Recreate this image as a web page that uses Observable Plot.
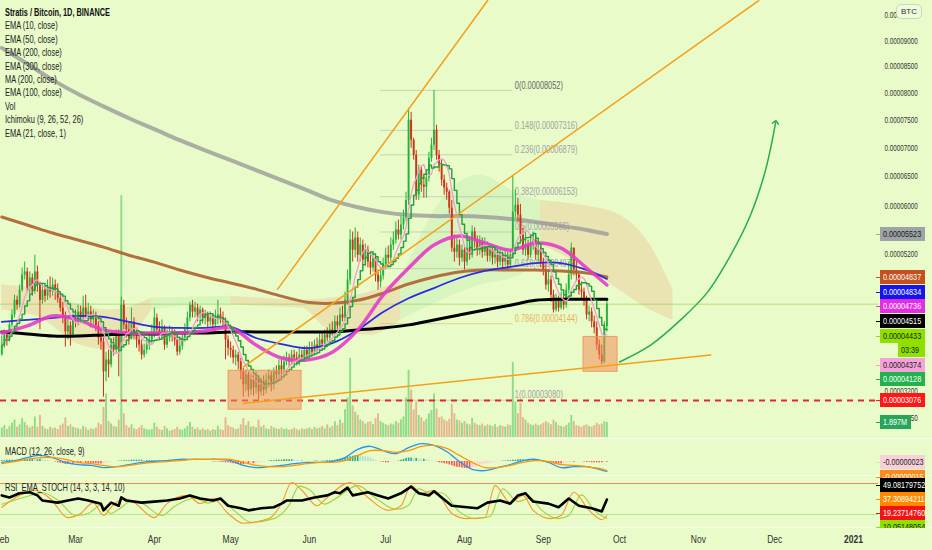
<!DOCTYPE html>
<html>
<head>
<meta charset="utf-8">
<script src="https://cdn.jsdelivr.net/npm/d3@7"></script>
<script src="https://cdn.jsdelivr.net/npm/@observablehq/plot@0.6"></script>
<style>
html,body{margin:0;padding:0;background:#e8fbc8;}
#wrap{position:relative;width:932px;height:550px;overflow:hidden;background:#e8fbc8;font-family:"Liberation Sans",Arial,sans-serif;color:#222;}
.layer{position:absolute;left:0;}
.sep{position:absolute;left:0;width:932px;height:1px;background:#f5fdec;}
.tag{position:absolute;height:14px;line-height:14px;font-size:9.5px;padding-left:3px;box-sizing:border-box;white-space:nowrap;overflow:hidden;}
.tk{position:absolute;height:1px;width:4px;}
.cx{display:inline-block;transform-origin:0 50%;white-space:nowrap;}
#legend{position:absolute;left:5px;top:6px;font-size:10.5px;line-height:13.4px;color:#222;}
.plabel{position:absolute;left:5px;font-size:10.5px;line-height:13px;color:#222;}
#btc{position:absolute;left:896px;top:4px;font-size:8px;line-height:13px;padding:0 4px;border:1px solid #c9d9b9;border-radius:5px;background:#eefbdc;color:#333;}
</style>
</head>
<body>
<div id="wrap">
  <div class="layer" id="volLayer" style="top:0"></div>
  <div class="layer" id="mainLayer" style="top:0"></div>
  <div class="sep" style="top:438px"></div>
  <div class="layer" id="macdLayer" style="top:438px"></div>
  <div class="sep" style="top:475px"></div>
  <div class="layer" id="rsiLayer" style="top:475px"></div>
  <div class="sep" style="top:527px"></div>
  <div id="legend"></div>
  <div class="plabel" style="top:445px"><span class="cx" style="transform:scaleX(0.71)">MACD (12, 26, close, 9)</span></div>
  <div class="plabel" style="top:481px"><span class="cx" style="transform:scaleX(0.71)">RSI_EMA_STOCH (14, 3, 3, 14, 10)</span></div>
  <div id="tags"></div>
  <div id="btc">BTC</div>
</div>
<script>
// ---------- DATA (prices in satoshi = 1e-8 BTC, days counted from 2020-02-01) ----------
const startDate = "2020-02-01";
const firstOpen = 3693;
const closes = [
3834,3980,3907,4126,4272,4491,4418,4647,4880,4927,
4678,4833,4647,4927,4724,4491,4647,4554,4678,4616,
4724,4647,4522,4374,4228,4024,4111,3980,4228,4170,
4316,4228,4374,4272,4316,4199,4228,4111,3936,3878,
3461,3625,3556,3834,3761,3980,3790,4418,4126,4053,
3936,4170,3995,3907,3834,3693,3761,3834,3907,3965,
4228,4053,3980,4082,3834,3936,4024,3965,3907,3734,
3819,3936,4053,4228,4418,4316,4374,4257,4345,4228,
4287,4170,4228,4126,4199,4272,4228,4170,3907,3790,
3761,3652,3693,3597,3461,3284,3420,3215,3352,3243,
3379,3188,3325,3215,3352,3406,3284,3461,3420,3543,
3488,3597,3652,3597,3693,3652,3597,3693,3652,3761,
3693,3790,3734,3834,3790,3907,3849,3980,3936,4053,
4024,4170,4111,4272,4228,4491,4802,5435,5271,5468,
5191,5353,5113,5271,5082,4989,5145,4880,4771,4865,
5036,5191,5145,5353,5435,5599,5517,5681,5796,6091,
7501,7139,6870,6179,6611,6352,6317,6473,6819,7049,
7320,6870,6698,6438,6300,6230,5960,5304,5238,5353,
5145,5271,5082,5304,5191,5566,5435,5271,5402,5238,
5353,5176,5271,5145,5191,5082,5191,5082,5145,5036,
5191,5894,6009,5845,5517,5271,5353,5191,5353,5435,
5191,5271,5082,4958,4724,4802,4569,4345,4491,4374,
4491,4418,4647,4880,5304,4958,4880,4647,4616,4491,
4272,4316,4170,4082,3834,3693,3597,4097,4433];
const highs = [
3965,4053,4024,4170,4345,4569,4554,4724,4989,5082,
4989,4927,4896,5191,5020,4771,4740,4709,4802,4849,
4833,4802,4740,4585,4462,4316,4228,4170,4287,4345,
4418,4403,4554,4569,4447,4403,4345,4316,4170,4053,
3936,3734,3761,3907,3936,4053,4053,4538,4491,4228,
4170,4374,4228,4053,3980,3907,3849,3936,3995,4126,
4374,4287,4170,4199,4111,4053,4111,4082,4053,3995,
3936,4024,4141,4316,4462,4491,4462,4433,4403,4374,
4345,4316,4316,4287,4345,4491,4374,4316,4228,3965,
3878,3819,3761,3734,3652,3515,3488,3461,3420,3406,
3461,3406,3379,3406,3434,3488,3461,3515,3543,3625,
3625,3679,3734,3706,3761,3761,3734,3790,3761,3819,
3819,3878,3878,3907,3936,3995,3995,4053,4082,4141,
4170,4257,4257,4374,4403,4616,4958,5599,5566,5632,
5566,5468,5435,5369,5337,5191,5238,5191,4958,4989,
5145,5304,5337,5468,5566,5730,5763,5828,5927,6230,
7718,7646,7175,6957,6698,6680,6507,6611,6922,7175,
8052,7411,6957,6784,6525,6386,6265,6091,5517,5468,
5435,5353,5337,5435,5468,5665,5632,5501,5501,5468,
5468,5402,5369,5337,5304,5271,5271,5238,5271,5238,
5271,6507,6265,6127,6025,5632,5566,5435,5468,5566,
5501,5402,5337,5145,5036,4927,4865,4647,4585,4554,
4616,4569,4740,5082,5386,5271,5082,4927,4771,4678,
4554,4403,4374,4257,4170,3907,3834,4170,4491];
const lows = [
3679,3790,3819,3878,4082,4228,4345,4374,4616,4802,
4616,4585,4554,4585,4616,4053,4433,4462,4491,4522,
4554,4491,4447,4316,4141,3805,3907,3819,3936,4082,
4111,4170,4199,4228,4199,4082,4126,4024,3834,3761,
3120,3325,3379,3515,3679,3706,3393,3761,4053,3936,
3834,3907,3907,3790,3734,3625,3652,3706,3761,3849,
3936,3965,3907,3907,3761,3790,3878,3878,3819,3679,
3693,3761,3878,3995,4170,4228,4228,4170,4199,4141,
4126,4082,4111,4024,4053,4126,4141,4082,3625,3679,
3652,3570,3543,3488,3352,3120,3188,3120,3147,3134,
3161,3080,3134,3134,3161,3243,3188,3215,3297,3352,
3379,3434,3543,3515,3543,3570,3543,3543,3597,3597,
3625,3625,3679,3679,3734,3734,3790,3790,3878,3878,
3965,3965,4053,4053,4170,4170,4418,4724,5082,5145,
5082,5082,5020,5020,4989,4880,4927,4771,4647,4678,
4802,4958,5051,5082,5271,5369,5435,5435,5599,5730,
6009,6994,6784,6092,6092,6230,6127,6127,6403,6749,
6957,6784,6576,6334,6179,6092,5861,5238,5082,5145,
5020,5082,4958,5020,5113,5145,5304,5176,5191,5145,
5176,5082,5082,5036,5051,4989,5020,4958,5020,4958,
4989,5145,5796,5730,5435,5191,5176,5113,5145,5271,
5113,5082,4989,4865,4647,4616,4462,4301,4316,4316,
4345,4345,4374,4585,4802,4865,4771,4569,4522,4403,
4199,4170,4082,3995,3761,3625,3556,3570,4024];
// volume, millions of STRAT
const volumes = [
1.2,1.5,1.0,1.4,1.8,2.2,1.3,1.6,2.4,1.9,
1.5,1.2,1.4,2.6,1.3,2.8,1.4,1.1,1.0,1.3,
1.1,1.2,1.0,1.5,1.7,2.5,1.4,1.6,1.3,1.2,
1.1,1.0,1.4,1.2,0.9,1.1,1.0,1.2,1.8,1.6,
3.8,5.5,2.0,1.7,1.4,1.3,2.2,30.6,3.0,1.5,
1.2,1.6,1.1,1.0,1.2,1.5,1.1,1.0,0.9,1.0,
1.8,1.3,1.0,0.9,1.4,1.1,0.8,0.9,1.0,1.3,
1.0,0.9,1.1,1.4,1.9,1.3,1.0,1.2,0.9,1.1,
0.9,1.0,0.8,1.0,0.9,1.4,1.0,0.9,2.5,1.5,
1.3,1.2,1.0,1.1,1.6,2.4,1.5,2.0,1.3,1.4,
1.2,2.2,1.3,1.5,1.1,1.0,1.4,1.2,1.1,1.0,
1.2,1.0,1.1,0.9,1.0,1.2,1.0,0.9,1.1,1.0,
1.1,1.2,1.0,1.3,1.1,1.2,1.4,1.1,1.6,1.2,
1.4,2.0,1.5,2.2,1.8,3.5,5.0,10.0,4.0,3.2,
2.8,2.2,2.0,1.7,1.9,2.0,1.6,2.4,3.0,2.0,
1.8,1.6,1.5,1.7,1.6,2.0,1.8,2.2,2.6,5.0,
8.5,6.0,3.5,4.5,2.8,2.5,2.0,2.3,3.0,3.4,
5.5,3.6,2.5,2.6,2.2,2.0,2.3,4.2,3.0,2.2,
2.1,1.8,2.0,1.7,1.6,2.4,1.8,1.6,1.5,1.7,
1.4,1.6,1.5,1.4,1.6,1.3,1.5,1.4,1.3,1.6,
1.5,9.5,4.5,3.0,4.3,2.5,2.2,1.8,1.6,1.5,
1.7,1.5,1.6,1.8,2.0,1.8,1.6,2.2,1.9,1.5,
1.4,1.3,1.5,1.8,2.8,2.0,1.5,1.4,1.3,1.5,
1.6,1.4,1.3,1.5,1.8,1.6,1.7,2.0,1.9];

// moving averages read every 10 days
const maDays = [0,10,20,30,40,50,60,70,80,90,100,110,120,130,140,150,160,170,180,190,200,210,220,230,238];
const ema300 = [8864,8557,8250,7983,7754,7537,7338,7139,6957,6784,6611,6438,6265,6091,5976,5894,5845,5828,5828,5812,5779,5730,5665,5599,5533];
const ema200 = [5812,5681,5550,5435,5320,5191,5082,4958,4849,4756,4662,4554,4462,4447,4491,4600,4740,4849,4927,4958,4958,4958,4942,4911,4849];
const ema100 = [4170,4199,4228,4257,4243,4170,4097,4082,4082,4097,3936,3849,3790,3863,4053,4316,4522,4678,4833,4942,5005,5067,5067,4958,4818];
const ema50  = [4009,4111,4257,4199,4053,4009,4009,4009,4038,4082,3834,3652,3625,3734,4053,4569,4989,5353,5501,5386,5271,5386,5304,4989,4724];
const ma200  = [4024,3995,3965,3965,3980,3995,3995,4009,4009,4024,4024,4024,4024,4024,4053,4082,4126,4199,4272,4345,4418,4491,4507,4507,4507];

// Ichimoku cloud
const cloudDays = [0,15,31,43,59,74,90,102,118,129,145,157,173,188,204,212,228,243,255,264];
const cloudTop  = [4724,4647,4418,4345,4522,4538,4554,4522,4491,4522,4616,4802,6091,6525,6179,6091,6009,5845,5353,4647];
const cloudBot  = [4345,4228,3834,3761,4345,4418,4433,4403,4374,4053,3980,4199,4491,4724,4880,5353,5036,4647,4345,4199];
const cloudKind = ["tan","tan","tan","tan","green","green","tan","tan","tan","tan","tan","green","green","green","green","tan","tan","tan","tan","tan"];

// Fibonacci retracement
const fibRatios = [0, 0.148, 0.236, 0.382, 0.5, 0.618, 0.786, 1];
const fibPrices = [8052, 7316, 6879, 6153, 5566, 4979, 4144, 3080];
const fibSpan = [149, 201];

// drawings
const trendDays   = [[108.5,191.1],[95.1,297.7],[95.1,278.8]];
const trendPrices = [[4662,9800],[3529,9800],[3038,3693]];
const boxDays   = [[89.2,117.9],[228.8,242.2]];
const boxPrices = [[2956,3475],[3461,3951]];
const arrowDays   = [243.0,255.2,267.0,277.6,286.7,294.5,300.4,304.4];
const arrowPrices = [3597,3834,4199,4616,5191,5845,6611,7465];
const supportLevel = 3076;

// right-axis ticks and price tags
const yTicks = [9500,9000,8500,8000,7500,7000,6500,6000,5600,5200,3200,2850];
const tagValues = [5523,4837,4834,4736,4515,4433,4374,4128,3076];
const countdown = "03:39";
const volumeTag = "1.897M";

// MACD (1e-8 BTC), every 5 days
const macdDays = [0,5,10,15,20,25,30,35,40,45,50,55,60,65,70,75,80,85,90,95,100,105,110,115,120,125,130,135,140,145,150,155,160,165,170,175,180,185,190,195,200,205,210,215,220,225,230,235,238];
const macdLine   = [-2,2,9,14,9,-2,-7,-9,-14,-12,-7,-2,0,2,5,5,5,5,2,-9,-14,-12,-9,-5,-2,-2,0,9,28,35,25,18,32,41,37,23,0,-18,-21,-14,-7,2,5,-2,-14,-12,-12,-18,-23];
const signalLine = [-5,0,5,9,9,5,-2,-5,-9,-12,-9,-5,-2,0,2,5,5,5,5,-2,-9,-12,-12,-9,-5,-2,-2,2,14,25,25,21,25,35,37,30,14,-2,-14,-14,-9,-2,2,0,-7,-9,-12,-16,-21];
const macdHist = [
2,2,3,3,3, 2,2,3,3,4, 4,4,5,4,4, 5,4,3,2,1, 0,-1,-3,-4,-5, -7,-7,-6,-6,-5,
-5,-5,-4,-4,-4, -4,-5,-5,-6,-6, -5,-4,-2,-1,0, 0,1,1,2,2, 2,3,3,3,3, 3,2,2,2,2,
2,2,2,2,2, 2,3,3,3,2, 2,1,1,0,0, 0,0,0,0,0, 0,0,0,-1,-1, -1,-2,-2,-3,-3,
-4,-5,-6,-7,-7, -7,-6,-6,-5,-5, -4,-3,-2,-1,0, 1,2,2,3,3, 3,4,4,4,4, 3,2,1,1,0,
0,0,0,1,1, 0,1,1,2,2, 2,3,4,5,6, 7,9,11,12,13, 14,13,12,11,10, 8,5,2,0,-1,
-2,-3,-3,-2,-1, 0,1,3,5,7, 8,8,7,7,6, 5,5,4,2,1, 0,-1,-3,-4,-5, -6,-8,-10,-12,-13,
-14,-15,-16,-16,-16, -15,-14,-12,-10,-8, -6,-5,-4,-3,-2, -1,0,1,1,2, 2,3,3,4,4, 4,3,3,2,2,
2,1,0,-1,-2, -3,-4,-5,-6,-6, -6,-5,-4,-3,-2, -2,-1,0,0,-1, -2,-2,-3,-3,-3, -3,-3,-2,-2];

// RSI / stochastic
const rsiDays = [0,3,7,11,14,16,22,26,30,34,39,40,43,46,47,49,55,60,65,70,74,78,83,86,89,94,97,102,107,110,112,118,123,128,131,133,136,138,144,148,152,157,161,164,168,170,173,177,183,187,191,196,200,203,206,209,215,219,223,227,232,236,238];
const rsiLine = [57,53,61,63,57,47,43,47,51,47,41,28,43,37,53,47,43,45,47,51,57,51,47,51,37,32,28,32,34,41,47,47,53,57,63,61,72,57,63,57,51,61,74,61,57,65,53,37,34,32,43,47,41,57,61,45,41,34,51,37,32,26,49];
const kDays = [0,7,13,19,26,31,36,40,43,48,52,60,65,73,78,83,89,95,105,110,114,118,124,128,137,144,152,157,161,165,170,177,183,190,194,200,205,209,216,220,225,231,236,238];
const kLine = [34,57,67,51,14,22,43,18,34,51,43,14,41,57,41,51,22,3,12,41,82,67,37,53,82,53,28,37,76,61,67,22,12,14,76,43,57,28,12,18,63,28,10,18];
const dDays = [0,10,16,22,29,34,39,43,46,51,55,63,68,76,81,86,92,98,107,113,117,121,127,131,140,147,155,160,164,168,173,180,186,192,197,203,208,212,219,223,228,233,238];
const dLine = [40,55,62,48,18,22,38,22,30,46,42,18,36,52,42,48,25,5,12,38,75,68,40,50,76,52,30,38,70,62,62,25,12,16,70,45,52,30,12,18,58,28,12];
const rsiTags = ["49.08179752","37.30894211","19.23714760","10.05148054"];
const macdTags = ["-0.00000023","-0.00000015"];

// x axis
const monthTicks  = ["2020-02-01","2020-03-01","2020-04-01","2020-05-01","2020-06-01","2020-07-01","2020-08-01","2020-09-01","2020-10-01","2020-11-01","2020-12-01","2021-01-01"];
const monthLabels = ["Feb","Mar","Apr","May","Jun","Jul","Aug","Sep","Oct","Nov","Dec","2021"];

const legendLines = ["Stratis / Bitcoin, 1D, BINANCE","EMA (10, close)","EMA (50, close)","EMA (200, close)","EMA (300, close)","MA (200, close)","EMA (100, close)","Vol","Ichimoku (9, 26, 52, 26)","EMA (21, close, 1)"];

// ---------- RENDER ----------
const FONT = '"Liberation Sans",Arial,sans-serif';
const COND = 0.74; // the screenshot's UI font is a narrow face
const startMs = Date.parse(startDate + "T00:00:00Z");
const day = i => new Date(startMs + i * 864e5);
const fmt = v => (v / 1e8).toFixed(8);
const GREEN = "#24b33a", RED = "#cf3018";
const W = 932, MR = 54;
const xScale = {type: "utc", domain: [day(0), new Date(Date.parse("2021-01-01T00:00:00Z"))], range: [1.3, 853]};
const baseStyle = {background: "transparent", overflow: "visible", fontFamily: FONT};

const candles = closes.map((c, i) => {
  const open = i === 0 ? firstOpen : closes[i - 1];
  return {date: day(i), open, close: c, high: Math.max(highs[i], open, c), low: Math.min(lows[i], open, c), vol: volumes[i], up: c >= open};
});
const series = (days, vals) => days.map((d, i) => ({date: day(d), v: vals[i]}));

const cloud = [];
let seg = 0;
cloudDays.forEach((d, i) => {
  if (i > 0 && cloudKind[i] !== cloudKind[i - 1]) {
    cloud.push({date: day(d), top: cloudTop[i], bot: cloudBot[i], seg, kind: cloudKind[i - 1]});
    seg++;
  }
  cloud.push({date: day(d), top: cloudTop[i], bot: cloudBot[i], seg, kind: cloudKind[i]});
});
const fibs = fibRatios.map((r, i) => ({r, p: fibPrices[i], x1: day(fibSpan[0]), x2: day(fibSpan[1]), label: `${r}(${fmt(fibPrices[i])})`}));
const trends = trendDays.flatMap((ds, k) => ds.map((d, j) => ({date: day(d), v: trendPrices[k][j], k})));
const boxes = boxDays.map((ds, k) => ({x1: day(ds[0]), x2: day(ds[1]), y1: boxPrices[k][0], y2: boxPrices[k][1]}));
const arrow = series(arrowDays, arrowPrices);

const volPlot = Plot.plot({
  width: W, height: 438, marginTop: 0, marginBottom: 0, marginLeft: 0, marginRight: MR,
  x: {...xScale, axis: null},
  y: {domain: [0, 55.3], range: [437, 0], axis: null},
  style: baseStyle,
  marks: [
    Plot.ruleX(candles, {x: "date", y1: 0, y2: "vol", stroke: d => d.up ? "rgba(36,179,58,0.45)" : "rgba(225,80,55,0.40)", strokeWidth: 1.9, clip: true})
  ]
});
document.getElementById("volLayer").appendChild(volPlot);

const line = (data, stroke, width, extra = {}) => Plot.line(data, {x: "date", y: "v", stroke, strokeWidth: width, curve: "catmull-rom", clip: true, ...extra});
const main = Plot.plot({
  width: W, height: 438, marginTop: 0, marginBottom: 0, marginLeft: 0, marginRight: MR,
  x: {...xScale, axis: null},
  y: {type: "pow", exponent: 0.63, domain: [3076, 9500], range: [400, 15]},
  style: {...baseStyle, fontSize: "9px"},
  marks: [
    Plot.areaY(cloud, {x: "date", y1: "bot", y2: "top", z: "seg", fill: d => d.kind === "tan" ? "rgba(236,196,150,0.42)" : "rgba(205,240,185,0.6)", curve: "monotone-x", clip: true}),
    Plot.ruleY(fibs, {y: "p", x1: "x1", x2: "x2", stroke: d => d.r === 0.786 ? "rgba(235,180,90,0.55)" : "rgba(140,140,140,0.35)", strokeWidth: 1}),
    Plot.text(fibs, {x: "x2", y: "p", text: "label", dx: 2, dy: -5, textAnchor: "start", fontSize: 10, fill: d => d.r === 0 ? "#666" : d.r === 0.786 ? "#e8b45a" : "#a2a2a2"}),
    Plot.ruleY([closes[closes.length - 1]], {stroke: "rgba(150,210,80,0.65)", strokeWidth: 1}),
    Plot.ruleY([supportLevel], {stroke: "#e3282b", strokeWidth: 2, strokeDasharray: "6,5"}),
    line(series(maDays, ema300), "rgba(150,150,150,0.75)", 4),
    Plot.ruleX(candles, {x: "date", y1: "low", y2: "high", stroke: d => d.up ? GREEN : RED, strokeWidth: 1, clip: true}),
    Plot.ruleX(candles, {x: "date", y1: "open", y2: "close", stroke: d => d.up ? GREEN : RED, strokeWidth: 1.9, clip: true}),
    line(series(maDays, ema200), "rgba(176,104,56,0.95)", 3),
    line(series(maDays, ma200), "#000", 3),
    line(series(maDays, ema100), "#2c2ce0", 1.8),
    line(series(maDays, ema50), "rgba(228,60,200,0.9)", 3.5),
    Plot.line(candles, Plot.windowY({k: 7, anchor: "end"}, {x: "date", y: "close", stroke: "#f29ad6", strokeWidth: 1.3, clip: true})),
    Plot.line(candles, Plot.windowY({k: 9, anchor: "end"}, {x: "date", y: "close", curve: "step-after", stroke: "#1fa339", strokeWidth: 1.4, clip: true})),
    Plot.rect(boxes, {x1: "x1", x2: "x2", y1: "y1", y2: "y2", fill: "rgba(242,140,90,0.55)", stroke: "rgba(240,150,80,0.9)", strokeWidth: 1}),
    Plot.line(trends, {x: "date", y: "v", z: "k", stroke: "#f6a01a", strokeWidth: 1.5, clip: true}),
    Plot.line(arrow, {x: "date", y: "v", stroke: "#27ae48", strokeWidth: 1.5, curve: "catmull-rom", markerEnd: "arrow", clip: true}),
    Plot.axisY(yTicks, {anchor: "right", tickSize: 0, tickPadding: 6, tickFormat: fmt, fontSize: 8.5, color: "#333", label: null})
  ]
});
document.getElementById("mainLayer").appendChild(main);

const macdPts = macdDays.map((d, i) => ({date: day(d), m: macdLine[i], s: signalLine[i]}));
const hist = macdHist.map((h, i) => ({date: day(i), h, prev: i ? macdHist[i - 1] : h}));
const macdPlot = Plot.plot({
  width: W, height: 37, marginTop: 0, marginBottom: 0, marginLeft: 0, marginRight: MR,
  x: {...xScale, axis: null},
  y: {domain: [-32.2, 52.9], range: [37, 0], axis: null},
  style: baseStyle,
  marks: [
    Plot.ruleX(hist, {x: "date", y1: 0, y2: "h", strokeWidth: 1.6, stroke: d => d.h >= 0 ? (d.h >= d.prev ? "#26a69a" : "#b2dfdb") : (d.h <= d.prev ? "#ff5252" : "#ffcdd2")}),
    Plot.line(macdPts, {x: "date", y: "m", stroke: "#2196f3", strokeWidth: 1.3, curve: "catmull-rom", clip: true}),
    Plot.line(macdPts, {x: "date", y: "s", stroke: "#ff9800", strokeWidth: 1.3, curve: "catmull-rom", clip: true})
  ]
});
document.getElementById("macdLayer").appendChild(macdPlot);

const monthDates = monthTicks.map(t => new Date(t + "T00:00:00Z"));
const rsiPlot = Plot.plot({
  width: W, height: 75, marginTop: 0, marginBottom: 22, marginLeft: 0, marginRight: MR,
  x: {...xScale},
  y: {domain: [0, 100], range: [49.3, -2.3], axis: null},
  style: {...baseStyle, fontSize: "11.5px"},
  marks: [
    Plot.ruleY([80], {stroke: "#ee8a5a", strokeWidth: 1}),
    Plot.ruleY([20], {stroke: "#b3e49a", strokeWidth: 1}),
    Plot.line(series(dDays, dLine), {x: "date", y: "v", stroke: "#a3d23a", strokeWidth: 1.1, curve: "monotone-x", clip: true}),
    Plot.line(series(kDays, kLine), {x: "date", y: "v", stroke: "#f39a2b", strokeWidth: 1.1, curve: "monotone-x", clip: true}),
    Plot.line(series(rsiDays, rsiLine), {x: "date", y: "v", stroke: "#000", strokeWidth: 2.6, clip: true}),
    Plot.axisX(monthDates, {anchor: "bottom", tickSize: 0, tickPadding: 6, fontSize: 11.5, color: "#333", label: null,
      tickFormat: d => monthLabels[monthDates.findIndex(t => +t === +d)]})
  ]
});
rsiPlot.querySelectorAll("text").forEach(t => { if (t.textContent === "2021") t.setAttribute("font-weight", "bold"); });
document.getElementById("rsiLayer").appendChild(rsiPlot);

// condense SVG texts to the screenshot's narrow face (axis ticks to their measured 35px width)
document.querySelectorAll("#wrap svg text").forEach(t => {
  const L = t.getComputedTextLength();
  if (L > 0) { t.setAttribute("textLength", (L * COND).toFixed(1)); t.setAttribute("lengthAdjust", "spacingAndGlyphs"); }
});

document.getElementById("legend").innerHTML = legendLines.map((s, i) =>
  `<div><span class="cx" style="transform:scaleX(${i === 0 ? 0.7 : 0.71});${i === 0 ? "font-weight:bold;color:#111" : ""}">${s}</span></div>`).join("");

const tagsEl = document.getElementById("tags");
function tag(y, text, bg, fg, left = 880, width = 45, tick = true, h = 14) {
  const d = document.createElement("div");
  d.className = "tag";
  d.style.cssText = `left:${left}px;top:${y - 7}px;width:${width}px;height:${h}px;background:${bg};color:${fg};`;
  d.innerHTML = `<span class="cx" style="transform:scaleX(0.76)">${text}</span>`;
  tagsEl.appendChild(d);
  if (tick) {
    const t = document.createElement("div");
    t.className = "tk";
    t.style.cssText = `left:876px;top:${Math.round(y)}px;background:${bg};`;
    tagsEl.appendChild(t);
  }
}
const ys = main.scale("y");
const tagStyles = [["#9ea3a7","#1b1b1b"],["#c4511d","#fff"],["#1414f0","#fff"],["#e42ee4","#fff"],["#000","#fff"],["#8fe000","#142800"],["#f5a3da","#222"],["#22b14c","#fff"],["#ff1616","#fff"]];
const entries = [];
tagValues.forEach((v, i) => {
  entries.push({y: ys.apply(v), text: fmt(v), st: tagStyles[i]});
  if (i === 5) entries.push({y: ys.apply(v), text: countdown, st: tagStyles[i], short: true});
});
let prevY = -1e9;
entries.forEach(e => {
  const y = Math.max(e.y, prevY + 14.6);
  prevY = y;
  if (e.short) tag(y, e.text, e.st[0], e.st[1], 898, 27, false);
  else tag(y, e.text, e.st[0], e.st[1]);
});
const vy = volPlot.scale("y").apply(volumes[volumes.length - 1]);
tag(vy, volumeTag, "#27a659", "#fff", 880, 31);
tag(477, macdTags[1], "#ff8a1c", "#fff");
tag(462, macdTags[0], "#f9d0d8", "#222");
[["#000","#fff"],["#ff8a00","#fff"],["#f01414","#fff"],["#8fe000","#142800"]].forEach((st, i) => tag(485 + i * 14, rsiTags[i], st[0], st[1], 880, 45, true, i === 3 ? 8 : 14));
</script>
</body>
</html>
